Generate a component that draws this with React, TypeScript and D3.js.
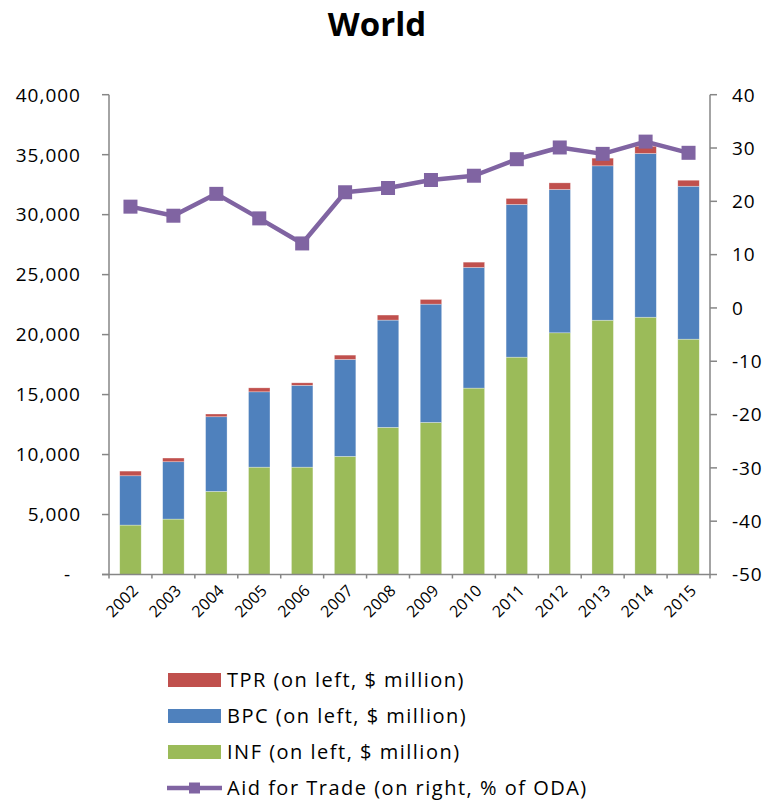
import React from "react";
import * as d3 from "d3";

const years = ["2002","2003","2004","2005","2006","2007","2008","2009","2010","2011","2012","2013","2014","2015"];
const infValues = [4120, 4620, 6930, 8950, 8950, 9850, 12270, 12680, 15540, 18120, 20150, 21200, 21450, 19620];
const bpcValues = [4110, 4780, 6220, 6280, 6820, 8080, 8940, 9860, 10060, 12730, 11950, 12870, 13650, 12750];
const tprValues = [390, 310, 230, 330, 210, 360, 420, 390, 440, 500, 550, 640, 600, 500];
const aftValues = [19.0, 17.3, 21.4, 16.8, 12.1, 21.7, 22.5, 24.0, 24.8, 27.9, 30.1, 28.9, 31.2, 29.1];
const leftTicks = [0, 5000, 10000, 15000, 20000, 25000, 30000, 35000, 40000];
const rightTicks = [-50, -40, -30, -20, -10, 0, 10, 20, 30, 40];
const legendItems = [
  { key: "TPR", label: "TPR (on left, $ million)", color: "#C0504D", type: "bar" },
  { key: "BPC", label: "BPC (on left, $ million)", color: "#4F81BD", type: "bar" },
  { key: "INF", label: "INF (on left, $ million)", color: "#9BBB59", type: "bar" },
  { key: "AFT", label: "Aid for Trade (on right, % of ODA)", color: "#8064A2", type: "line" },
];

const FONT = "'Open Sans', 'Noto Sans', sans-serif";
const AXIS = "#868686";

export default function App() {
  const left = 109, right = 710, top = 94.7, bottom = 574.5;
  const x = d3.scaleBand<string>().domain(years).range([left, right]).paddingInner(0.5).paddingOuter(0.25);
  const yL = d3.scaleLinear().domain([0, 40000]).range([bottom, top]);
  const yR = d3.scaleLinear().domain([-50, 40]).range([bottom, top]);
  const fmt = d3.format(",");
  const stack = years.map((yr, i) => {
    const a = infValues[i], b = a + bpcValues[i], c = b + tprValues[i];
    return { yr, segs: [[0, a, "#9BBB59"], [a, b, "#4F81BD"], [b, c, "#C0504D"]] as [number, number, string][] };
  });
  const line = d3.line<number>().x((_, i) => (x(years[i]) as number) + x.bandwidth() / 2).y((v) => yR(v));
  const step = (right - left) / years.length;

  return (
    <svg width={765} height={800} style={{ position: "absolute", left: 0, top: 0, background: "#fff" }} fontFamily={FONT}>
      <text x={377} y={36} textAnchor="middle" fontSize={33} fontWeight={700} fill="#000">World</text>

      {stack.map((s) => (
        <g key={s.yr}>
          {s.segs.map(([a, b, c], j) => (
            <rect key={j} x={x(s.yr)} width={x.bandwidth()} y={yL(b)} height={yL(a) - yL(b)} fill={c} stroke="#fff" strokeOpacity={0.5} strokeWidth={0.6} />
          ))}
        </g>
      ))}

      {/* left axis */}
      <line x1={left} x2={left} y1={top} y2={bottom} stroke={AXIS} strokeWidth={1.5} />
      {leftTicks.map((t) => (
        <g key={t}>
          <line x1={left - 7} x2={left} y1={yL(t)} y2={yL(t)} stroke={AXIS} strokeWidth={1.5} />
          <text x={t === 0 ? 71 : 81} y={yL(t)} dy="0.36em" textAnchor="end" fontSize={19} letterSpacing={1} fill="#000">{t === 0 ? "-" : fmt(t)}</text>
        </g>
      ))}

      {/* right axis */}
      <line x1={right} x2={right} y1={top} y2={bottom} stroke={AXIS} strokeWidth={1.5} />
      {rightTicks.map((t) => (
        <g key={t}>
          <line x1={right} x2={right + 7} y1={yR(t)} y2={yR(t)} stroke={AXIS} strokeWidth={1.5} />
          <text x={732} y={yR(t)} dy="0.36em" textAnchor="start" fontSize={19} letterSpacing={0.9} fill="#000">{t}</text>
        </g>
      ))}

      {/* bottom axis */}
      <line x1={left - 7} x2={right} y1={bottom} y2={bottom} stroke={AXIS} strokeWidth={1.5} />
      {d3.range(years.length + 1).map((i) => (
        <line key={i} x1={left + i * step} x2={left + i * step} y1={bottom} y2={bottom + 4} stroke={AXIS} strokeWidth={1.5} />
      ))}
      {years.map((yr) => {
        const cx = (x(yr) as number) + x.bandwidth() / 2 + 5;
        return (
          <text key={yr} transform={`translate(${cx},${bottom + 13}) rotate(-45)`} textAnchor="end" dy="0.35em" fontSize={16} letterSpacing={0.3} fill="#000">{yr}</text>
        );
      })}

      {/* line */}
      <path d={line(aftValues) || ""} fill="none" stroke="#8064A2" strokeWidth={4.5} strokeLinejoin="round" />
      {aftValues.map((v, i) => (
        <rect key={i} x={(x(years[i]) as number) + x.bandwidth() / 2 - 7} y={yR(v) - 7} width={14} height={14} fill="#8064A2" />
      ))}

      {/* legend */}
      {legendItems.map((it, i) => {
        const cy = 680 + i * 36;
        return (
          <g key={it.key}>
            {it.type === "bar" ? (
              <rect x={168} y={cy - 7} width={53} height={14} fill={it.color} />
            ) : (
              <g>
                <line x1={167} x2={222} y1={cy} y2={cy} stroke={it.color} strokeWidth={4.5} />
                <rect x={189} y={cy - 5.5} width={11} height={11} fill={it.color} />
              </g>
            )}
            <text x={227} y={cy} dy="0.36em" fontSize={20} letterSpacing={1.5} fill="#000">{it.label}</text>
          </g>
        );
      })}
    </svg>
  );
}
